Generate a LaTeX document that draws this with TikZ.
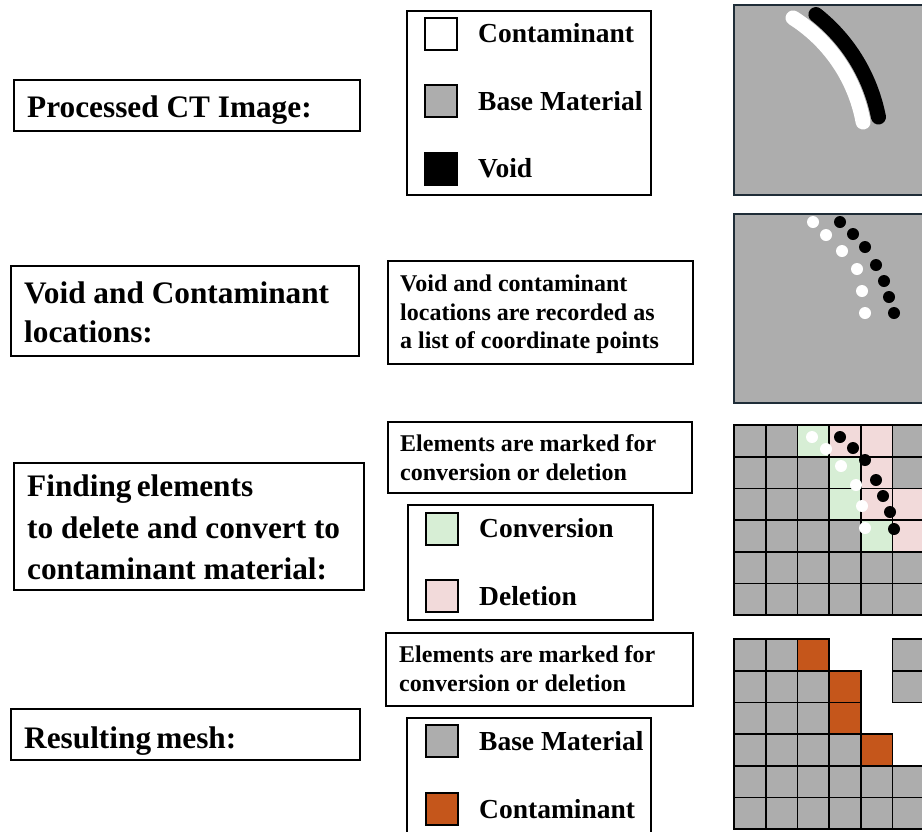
\documentclass[tikz,border=0pt]{standalone}
\usepackage{fontspec}
\setmainfont{Liberation Serif}
\definecolor{basegray}{HTML}{ADADAD}
\definecolor{convgreen}{HTML}{D7EED5}
\definecolor{delpink}{HTML}{F2DADA}
\definecolor{contorange}{HTML}{C5561B}
\definecolor{panelborder}{HTML}{1F2D38}
\tikzset{
  box/.style={draw=black, line width=1.8pt, fill=white, inner sep=0pt, anchor=north west},
  bigtxt/.style={font=\fontsize{31.3}{41}\selectfont\bfseries, anchor=base west, inner sep=0pt},
  legtxt/.style={font=\fontsize{27.5}{33}\selectfont\bfseries, anchor=base west, inner sep=0pt},
  smalltxt/.style={font=\fontsize{24}{29}\selectfont\bfseries, anchor=base west, inner sep=0pt},
  swatch/.style={draw=black, line width=2pt, minimum size=32pt, inner sep=0pt, anchor=north west},
  cell/.style={draw=black, line width=1.8pt},
  panel/.style={fill=basegray, draw=panelborder, line width=2.5pt},
  band/.style={line width=15pt, line cap=round},
  wdot/.style={fill=white},
  bdot/.style={fill=black}
}
\begin{document}
\begin{tikzpicture}[x=1pt,y=-1pt]
\useasboundingbox (0,0) rectangle (922,831);
\fill[white] (0,0) rectangle (922,831);

% ---------- left labels ----------
\node[box, minimum width=346pt, minimum height=51pt] (b1) at (13,79) {};
\node[bigtxt] (t1) at (27,117) {Processed CT Image:};

\node[box, minimum width=348pt, minimum height=90pt] (b2) at (10,265) {};
\node[bigtxt] (t2a) at (24,303) {Void and Contaminant};
\node[bigtxt] (t2b) at (24,342) {locations:};

\node[box, minimum width=350pt, minimum height=127pt] (b3) at (13,462) {};
\node[bigtxt] (t3a) at (27,496) {Finding\,elements};
\node[bigtxt] (t3b) at (27,538) {to delete and convert to};
\node[bigtxt] (t3c) at (27,579) {contaminant material:};

\node[box, minimum width=349pt, minimum height=51pt] (b4) at (10,708) {};
\node[bigtxt] (t4) at (24,748) {Resulting\,mesh:};

% ---------- legend 1 ----------
\node[box, minimum width=244pt, minimum height=184pt] (l1) at (406,10) {};
\node[swatch, fill=white] (s1a) at (424,17) {};
\node[swatch, fill=basegray] (s1b) at (424,84) {};
\node[swatch, fill=black] (s1c) at (424,152) {};
\node[legtxt] (l1a) at (478,42) {Contaminant};
\node[legtxt] (l1b) at (478,110) {Base Material};
\node[legtxt] (l1c) at (478,177) {Void};

% ---------- text box 2 ----------
\node[box, minimum width=305pt, minimum height=103pt] (m2) at (387,260) {};
\node[smalltxt] (m2a) at (400,291) {Void and contaminant};
\node[smalltxt] (m2b) at (400,320) {locations are recorded as};
\node[smalltxt] (m2c) at (400,348) {a list of coordinate points};

% ---------- text box 3 + legend 3 ----------
\node[box, minimum width=304pt, minimum height=71pt] (m3) at (387,421) {};
\node[smalltxt] (m3a) at (400,451) {Elements are marked for};
\node[smalltxt] (m3b) at (400,480) {conversion or deletion};
\node[box, minimum width=245pt, minimum height=115pt] (l3) at (407,504) {};
\node[swatch, fill=convgreen] (s3a) at (425,512) {};
\node[swatch, fill=delpink] (s3b) at (425,579) {};
\node[legtxt] (l3a) at (479,537) {Conversion};
\node[legtxt] (l3b) at (479,605) {Deletion};

% ---------- text box 4 + legend 4 ----------
\node[box, minimum width=307pt, minimum height=73pt] (m4) at (385,632) {};
\node[smalltxt] (m4a) at (399,662) {Elements are marked for};
\node[smalltxt] (m4b) at (399,691) {conversion or deletion};
\draw[line width=2pt, fill=white] (407,845) -- (407,718) -- (651,718) -- (651,845);
\node[swatch, fill=basegray] (s4a) at (425,724) {};
\node[swatch, fill=contorange] (s4b) at (425,792) {};
\node[legtxt] (l4a) at (479,750) {Base Material};
\node[legtxt] (l4b) at (479,818) {Contaminant};

% ---------- right panels ----------
\begin{scope}
\clip (0,0) rectangle (922,831);
% panel 1
\draw[panel] (734,5) rectangle (935,195);
\draw[band, black] plot[domain=-51.7:-11.1, samples=40] ({708.7+173*cos(\x)}, {150.3+173*sin(\x)});
\draw[band, white] plot[domain=-57.5:-10.4, samples=40] ({708.7+157*cos(\x)}, {150.3+157*sin(\x)});

% panel 2
\draw[panel] (734,214) rectangle (935,403);
\foreach \x/\y in {813/222, 826/235, 842/251, 857/269, 862/291, 865/313}
  \fill[wdot] (\x,\y) circle (6);
\foreach \x/\y in {840/222, 853/234, 865/247, 876/265, 884/281, 889/297, 894/313}
  \fill[bdot] (\x,\y) circle (6);

% panel 3 : marked grid
\def\cs{31.7}
\foreach \r in {0,...,5} {
  \foreach \c in {0,...,5} {
    \pgfmathsetmacro{\xa}{734+\c*\cs}
    \pgfmathsetmacro{\ya}{425+\r*\cs}
    \draw[cell, fill=basegray] (\xa,\ya) rectangle ++(\cs,\cs);
  }
}
\foreach \c/\r/\col in {2/0/convgreen, 3/0/delpink, 4/0/delpink,
                        3/1/convgreen, 4/1/delpink,
                        3/2/convgreen, 4/2/delpink, 5/2/delpink,
                        4/3/convgreen, 5/3/delpink} {
  \pgfmathsetmacro{\xa}{734+\c*\cs}
  \pgfmathsetmacro{\ya}{425+\r*\cs}
  \draw[cell, fill=\col] (\xa,\ya) rectangle ++(\cs,\cs);
}
\foreach \x/\y in {812/437, 826/449, 841/466, 856/485, 862/506, 865/528}
  \fill[wdot] (\x,\y) circle (6);
\foreach \x/\y in {840/437, 853/448, 865/460, 876/480, 883/496, 890/512, 894/529}
  \fill[bdot] (\x,\y) circle (6);

% panel 4 : resulting mesh
\foreach \c/\r/\col in {0/0/basegray, 1/0/basegray, 2/0/contorange, 5/0/basegray,
                        0/1/basegray, 1/1/basegray, 2/1/basegray, 3/1/contorange, 5/1/basegray,
                        0/2/basegray, 1/2/basegray, 2/2/basegray, 3/2/contorange,
                        0/3/basegray, 1/3/basegray, 2/3/basegray, 3/3/basegray, 4/3/contorange,
                        0/4/basegray, 1/4/basegray, 2/4/basegray, 3/4/basegray, 4/4/basegray, 5/4/basegray,
                        0/5/basegray, 1/5/basegray, 2/5/basegray, 3/5/basegray, 4/5/basegray, 5/5/basegray} {
  \pgfmathsetmacro{\xa}{734+\c*\cs}
  \pgfmathsetmacro{\ya}{639+\r*\cs}
  \draw[cell, fill=\col] (\xa,\ya) rectangle ++(\cs,\cs);
}
\end{scope}
\end{tikzpicture}
\end{document}
